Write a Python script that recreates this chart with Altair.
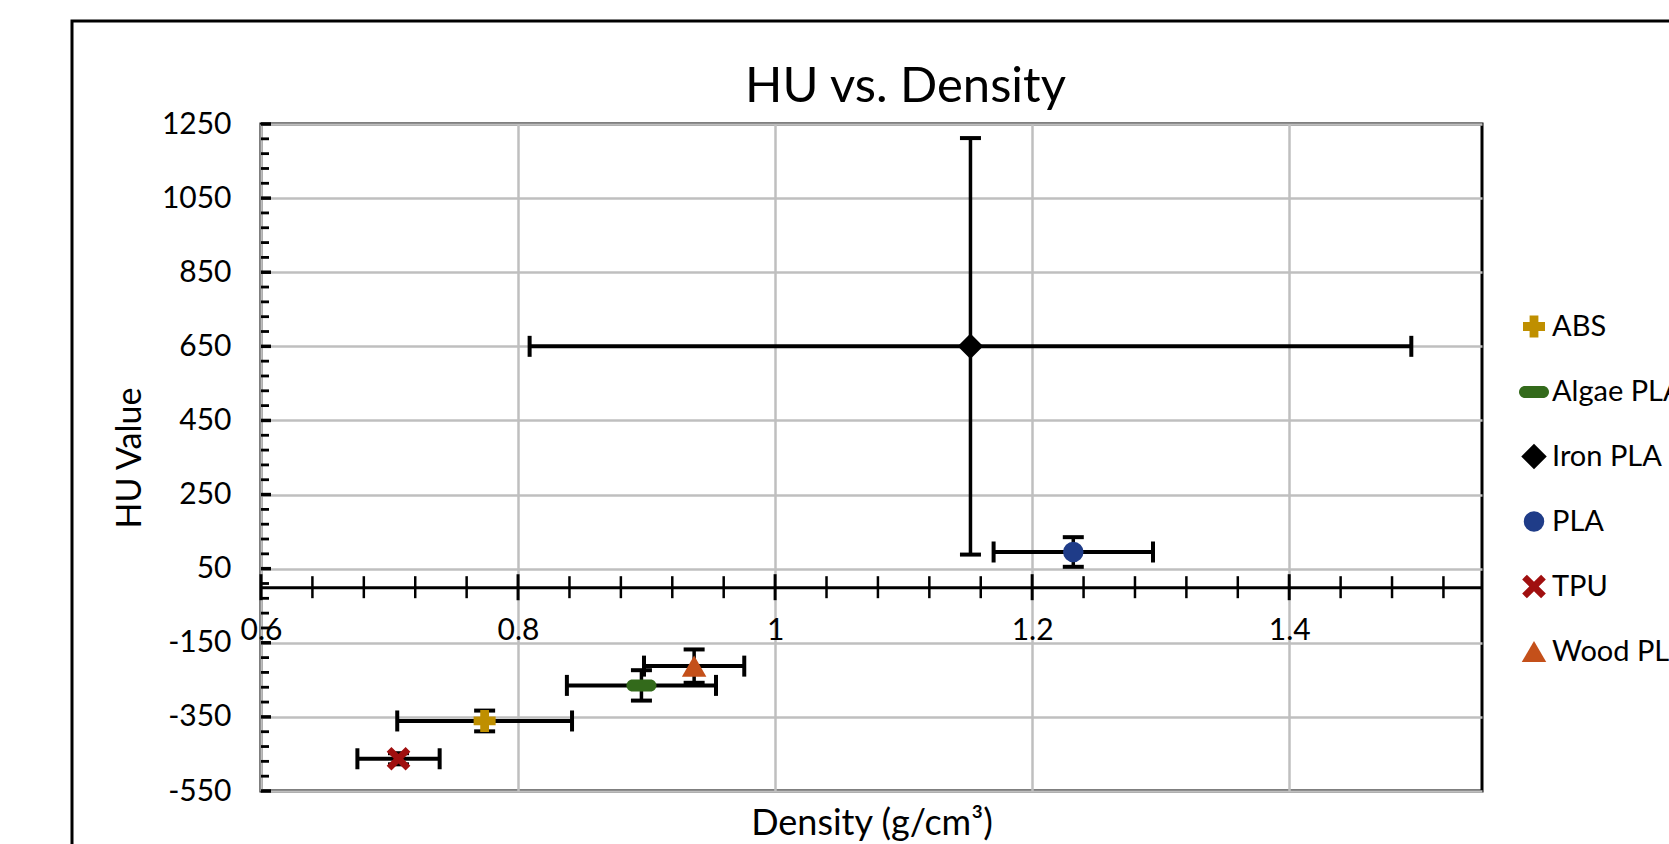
import altair as alt
import pandas as pd

# ---- data ----
materials = ["ABS", "Algae PLA", "Iron PLA", "PLA", "TPU", "Wood PLA"]
density = [0.774, 0.896, 1.152, 1.232, 0.707, 0.937]
density_err = [0.068, 0.058, 0.343, 0.062, 0.032, 0.039]
hu = [-361, -265, 650, 95, -463, -213]
hu_err = [28, 41, 562, 40, 15, 45]

colors = ["#BF8F00", "#336A1B", "#000000", "#1F3C88", "#A00F0F", "#C4501A"]
dash_path = "M-0.6,-0.4 L0.6,-0.4 A0.4,0.4 0 0 1 0.6,0.4 L-0.6,0.4 A0.4,0.4 0 0 1 -0.6,-0.4 Z"
x_path = ("M-1,-0.6 L-0.6,-1 L0,-0.4 L0.6,-1 L1,-0.6 L0.4,0 L1,0.6 L0.6,1 "
          "L0,0.4 L-0.6,1 L-1,0.6 L-0.4,0 Z")
shapes = ["cross", dash_path, "diamond", "circle", x_path, "triangle-up"]
sizes = [484, 900, 650, 420, 560, 600]

x_major = [0.6, 0.8, 1.0, 1.2, 1.4]
x_minor = [0.64, 0.68, 0.72, 0.76, 0.84, 0.88, 0.92, 0.96, 1.04, 1.08, 1.12, 1.16,
           1.24, 1.28, 1.32, 1.36, 1.44, 1.48, 1.52]
y_major = [1250, 1050, 850, 650, 450, 250, 50, -150, -350, -550]
y_minor = [v for v in range(1250, -551, -40) if v not in y_major]

x_title = "Density (g/cm³)"
y_title = "HU Value"

df = pd.DataFrame({
    "Material": materials,
    "density": density,
    "density_err": density_err,
    "hu": hu,
    "hu_err": hu_err,
})

W, H = 1221, 667
FONT = "Lato"
y0_px = H * 1250 / 1800.0  # pixel position of HU = 0 from top

xscale = alt.Scale(domain=[0.6, 1.55], nice=False, zero=False)
yscale = alt.Scale(domain=[-550, 1250], nice=False, zero=False)

x_axis = alt.Axis(values=x_major, labelExpr="'' + datum.value", offset=-(H - y0_px),
                  ticks=False, labelPadding=28, labelFlush=False,
                  labelOverlap=False, titleY=236, titleBaseline="middle", grid=True,
                  titleFontSize=36)
y_axis = alt.Axis(values=y_major, labelExpr="'' + datum.value", ticks=False, domain=False,
                  labelPadding=30, labelFlush=False, labelOverlap=False,
                  titlePadding=14, grid=True)


def X(field):
    return alt.X(field, scale=xscale, axis=x_axis, title=x_title)


def Y(field):
    return alt.Y(field, scale=yscale, axis=y_axis, title=y_title)


base = alt.Chart(df).transform_calculate(
    dlo="datum.density - datum.density_err",
    dhi="datum.density + datum.density_err",
    hlo="datum.hu - datum.hu_err",
    hhi="datum.hu + datum.hu_err",
)

# outer chart frame (decoration)
frame = alt.Chart(alt.Data(values=[{"f": 1}])).mark_rect(
    fillOpacity=0, stroke="black", strokeWidth=3
).encode(
    x=alt.value(-189), x2=alt.value(3000), y=alt.value(-103), y2=alt.value(3000)
)

hbar = base.mark_rule(color="black", strokeWidth=4).encode(
    x=X("dlo:Q"), x2="dhi:Q", y=Y("hu:Q"))
vbar = base.mark_rule(color="black", strokeWidth=3.5).encode(
    x=X("density:Q"), y=Y("hlo:Q"), y2="hhi:Q")
tick_kw = dict(color="black", size=21, thickness=4, opacity=1)
cap_l = base.mark_tick(orient="vertical", **tick_kw).encode(x=X("dlo:Q"), y=Y("hu:Q"))
cap_r = base.mark_tick(orient="vertical", **tick_kw).encode(x=X("dhi:Q"), y=Y("hu:Q"))
cap_b = base.mark_tick(orient="horizontal", **tick_kw).encode(x=X("density:Q"), y=Y("hlo:Q"))
cap_t = base.mark_tick(orient="horizontal", **tick_kw).encode(x=X("density:Q"), y=Y("hhi:Q"))

legend = alt.Legend(title=None, orient="none", legendX=1258, legendY=188)
points = base.mark_point(filled=True, opacity=1).encode(
    x=X("density:Q"),
    y=Y("hu:Q"),
    color=alt.Color("Material:N", scale=alt.Scale(domain=materials, range=colors),
                    legend=legend),
    shape=alt.Shape("Material:N", scale=alt.Scale(domain=materials, range=shapes),
                    legend=legend),
    size=alt.Size("Material:N",
                  scale=alt.Scale(type="ordinal", domain=materials, range=sizes),
                  legend=None),
)

# axis tick marks (inside for y, crossing for x)
ydf_major = pd.DataFrame({"v": y_major, "x0": [0.6] * len(y_major)})
ydf_minor = pd.DataFrame({"v": y_minor, "x0": [0.6] * len(y_minor)})
xdf_major = pd.DataFrame({"v": x_major, "y0": [0] * len(x_major)})
xdf_minor = pd.DataFrame({"v": x_minor, "y0": [0] * len(x_minor)})

ymaj = alt.Chart(ydf_major).mark_tick(
    orient="horizontal", color="black", size=10, thickness=3.5, xOffset=5, opacity=1
).encode(y=Y("v:Q"), x=X("x0:Q"))
ymin = alt.Chart(ydf_minor).mark_tick(
    orient="horizontal", color="black", size=8, thickness=2.8, xOffset=4, opacity=1
).encode(y=Y("v:Q"), x=X("x0:Q"))
xmaj = alt.Chart(xdf_major).mark_tick(
    orient="vertical", color="black", size=26, thickness=3, opacity=1
).encode(x=X("v:Q"), y=Y("y0:Q"))
xmin = alt.Chart(xdf_minor).mark_tick(
    orient="vertical", color="black", size=22, thickness=2.5, opacity=1
).encode(x=X("v:Q"), y=Y("y0:Q"))

chart = alt.layer(
    frame, hbar, vbar, cap_l, cap_r, cap_b, cap_t, points, ymaj, ymin, xmaj, xmin
).properties(
    width=W, height=H,
    title=alt.TitleParams("HU vs. Density", font=FONT, fontSize=49, fontWeight="normal",
                          color="black", anchor="middle", dx=34, dy=100, offset=8),
    autosize=alt.AutoSizeParams(type="none"),
    padding={"left": 261, "top": 124, "right": 187, "bottom": 53},
).configure_view(
    stroke="black", strokeWidth=3
).configure_axis(
    labelFont=FONT, labelFontSize=30, labelColor="black",
    titleFont=FONT, titleFontSize=34, titleFontWeight="normal", titleColor="black",
    gridColor="#BFBFBF", gridWidth=2.5, gridOpacity=1,
    domainColor="black", domainWidth=3,
).configure_legend(
    labelFont=FONT, labelFontSize=29, labelColor="black", symbolSize=350,
    rowPadding=35, labelOffset=3, padding=0, symbolStrokeWidth=0, symbolOpacity=1,
    labelLimit=400,
)

chart.save("out.html", embed_options={"renderer": "svg", "actions": False})
